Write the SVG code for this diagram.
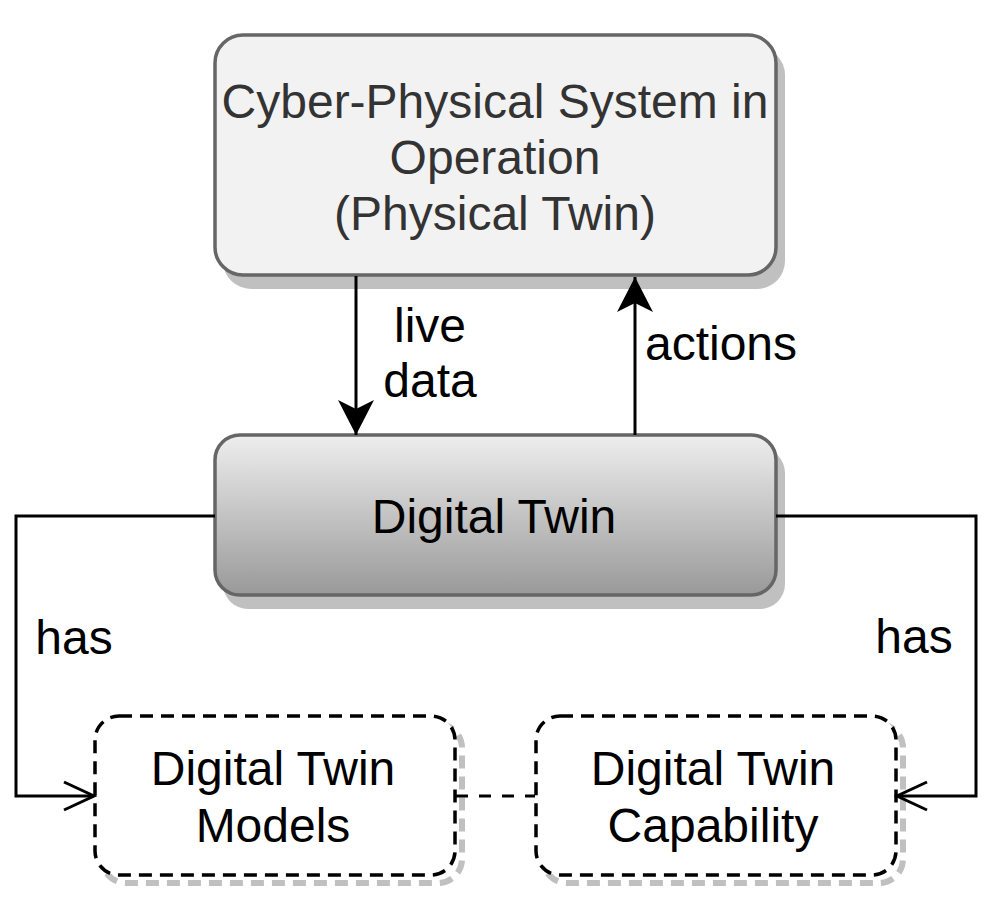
<svg xmlns="http://www.w3.org/2000/svg" width="992" height="906" viewBox="0 0 992 906">
  <defs>
    <linearGradient id="dtGrad" x1="0" y1="0" x2="0" y2="1">
      <stop offset="0" stop-color="#eeeeee"/>
      <stop offset="1" stop-color="#999999"/>
    </linearGradient>
    <marker id="filled" viewBox="0 0 36 36" refX="35" refY="18" markerWidth="36" markerHeight="36" markerUnits="userSpaceOnUse" orient="auto">
      <path d="M35,18 L0,0 L9,18 L0,36 Z" fill="#000"/>
    </marker>
    <marker id="open" viewBox="0 0 36 36" refX="33" refY="18" markerWidth="36" markerHeight="36" markerUnits="userSpaceOnUse" orient="auto">
      <path d="M3,4 L33,18 L3,32" fill="none" stroke="#000" stroke-width="3"/>
    </marker>
  </defs>
  <style>
    .lbl { font-family: "Liberation Sans", Arial, Helvetica, sans-serif; font-size: 48px; fill: #000; }
    .mid { text-anchor: middle; }
    .shadow { fill: #c0c0c0; stroke: none; }
    .dshadow { fill: none; stroke: #c0c0c0; stroke-width: 6; stroke-dasharray: 13 8; }
    .dbox { fill: #ffffff; stroke: #000; stroke-width: 3.5; stroke-dasharray: 13 8; }
    .edge { fill: none; stroke: #000; stroke-width: 3; }
  </style>
  <rect width="992" height="906" fill="#ffffff"/>

  <g id="cps">
    <rect class="shadow" x="223" y="47" width="562" height="242" rx="28"/>
    <rect x="215" y="35" width="561" height="240" rx="28" fill="#f2f2f2" stroke="#666666" stroke-width="3.5"/>
    <text class="lbl mid" x="495" y="118" style="fill:#333333">Cyber-Physical System in</text>
    <text class="lbl mid" x="495" y="174" style="fill:#333333">Operation</text>
    <text class="lbl mid" x="495" y="230" style="fill:#333333">(Physical Twin)</text>
  </g>

  <g id="digital-twin">
    <rect class="shadow" x="223" y="448" width="562" height="161" rx="25"/>
    <rect x="215" y="435" width="561" height="160" rx="25" fill="url(#dtGrad)" stroke="#666666" stroke-width="3.5"/>
    <text class="lbl mid" x="494" y="533">Digital Twin</text>
  </g>

  <g id="dt-models">
    <rect class="dshadow" x="102" y="724" width="360" height="159" rx="24"/>
    <rect class="dbox" x="95" y="716" width="360" height="159" rx="24"/>
    <text class="lbl mid" x="273" y="785">Digital Twin</text>
    <text class="lbl mid" x="273" y="842">Models</text>
  </g>

  <g id="dt-capability">
    <rect class="dshadow" x="543" y="724" width="360" height="159" rx="24"/>
    <rect class="dbox" x="536" y="716" width="360" height="159" rx="24"/>
    <text class="lbl mid" x="713" y="785">Digital Twin</text>
    <text class="lbl mid" x="713" y="842">Capability</text>
  </g>

  <g id="connectors">
    <line class="edge" x1="356" y1="276" x2="356" y2="435" marker-end="url(#filled)"/>
    <line class="edge" x1="635" y1="435" x2="635" y2="277" marker-end="url(#filled)"/>
    <path class="edge" d="M215,516 H16 V796 H94" marker-end="url(#open)"/>
    <path class="edge" d="M776,516 H976 V796 H897" marker-end="url(#open)"/>
    <line x1="456" y1="796" x2="535" y2="796" stroke="#000" stroke-width="3" stroke-dasharray="12 11"/>
    <text class="lbl mid" x="430" y="342">live</text>
    <text class="lbl mid" x="430" y="397">data</text>
    <text class="lbl mid" x="721" y="360">actions</text>
    <text class="lbl mid" x="74" y="654">has</text>
    <text class="lbl mid" x="914" y="653">has</text>
  </g>
</svg>
